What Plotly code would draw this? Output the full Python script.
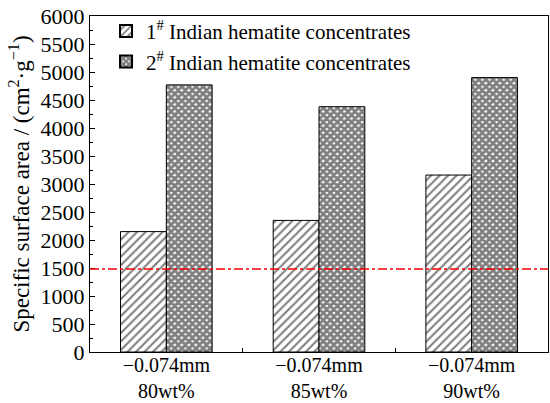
import plotly.graph_objects as go

categories = ["\u22120.074mm<br>80wt%", "\u22120.074mm<br>85wt%", "\u22120.074mm<br>90wt%"]
series_names = ["1<sup>#</sup> Indian hematite concentrates",
                "2<sup>#</sup> Indian hematite concentrates"]
sample1_area = [2150, 2350, 3160]
sample2_area = [4770, 4380, 4900]
reference_level = 1480

FONT = "Liberation Serif, Times New Roman, serif"

fig = go.Figure()
fig.add_trace(go.Bar(
    x=categories, y=sample1_area, name=series_names[0],
    marker=dict(color="white", line=dict(color="black", width=1),
                pattern=dict(shape="/", fgcolor="black", bgcolor="white",
                             size=6, solidity=0.35)),
))
fig.add_trace(go.Bar(
    x=categories, y=sample2_area, name=series_names[1],
    marker=dict(color="white", line=dict(color="black", width=1),
                pattern=dict(shape="x", fgcolor="black", bgcolor="white",
                             size=5, solidity=0.8)),
))

# red dash-dot reference level across the whole plot
fig.add_hline(y=reference_level, line=dict(color="#ff0000", width=1.5, dash="dashdot"))

fig.update_layout(
    width=550, height=403,
    margin=dict(l=90, r=2, t=16, b=51),
    paper_bgcolor="white", plot_bgcolor="white",
    barmode="group", bargap=0.4, bargroupgap=0,
    font=dict(family=FONT, size=21, color="black"),
    showlegend=True,
    legend=dict(x=0.035, y=1.015, xanchor="left", yanchor="top",
                bgcolor="rgba(0,0,0,0)", font=dict(family=FONT, size=21),
                tracegroupgap=0, itemsizing="constant"),
)
fig.update_xaxes(
    showline=True, linecolor="black", linewidth=1, mirror=True,
    ticks="inside", tickson="boundaries", ticklen=4, tickcolor="black",
    tickfont=dict(family=FONT, size=20), ticklabelstandoff=-5,
    showgrid=False, automargin=False,
)
fig.update_yaxes(
    range=[0, 6000], dtick=500, showline=True, linecolor="black",
    linewidth=1, mirror=True, ticks="inside", ticklen=5, tickcolor="black",
    minor=dict(dtick=250, ticks="inside", ticklen=3, tickcolor="black"),
    tickfont=dict(family=FONT, size=22), showgrid=False, zeroline=False,
    automargin=False,
    title=dict(text="Specific surface area / (cm<sup>2</sup>\u00b7g<sup>\u22121</sup>)",
               font=dict(family=FONT, size=23), standoff=4),
)

fig.write_html("out.html")
